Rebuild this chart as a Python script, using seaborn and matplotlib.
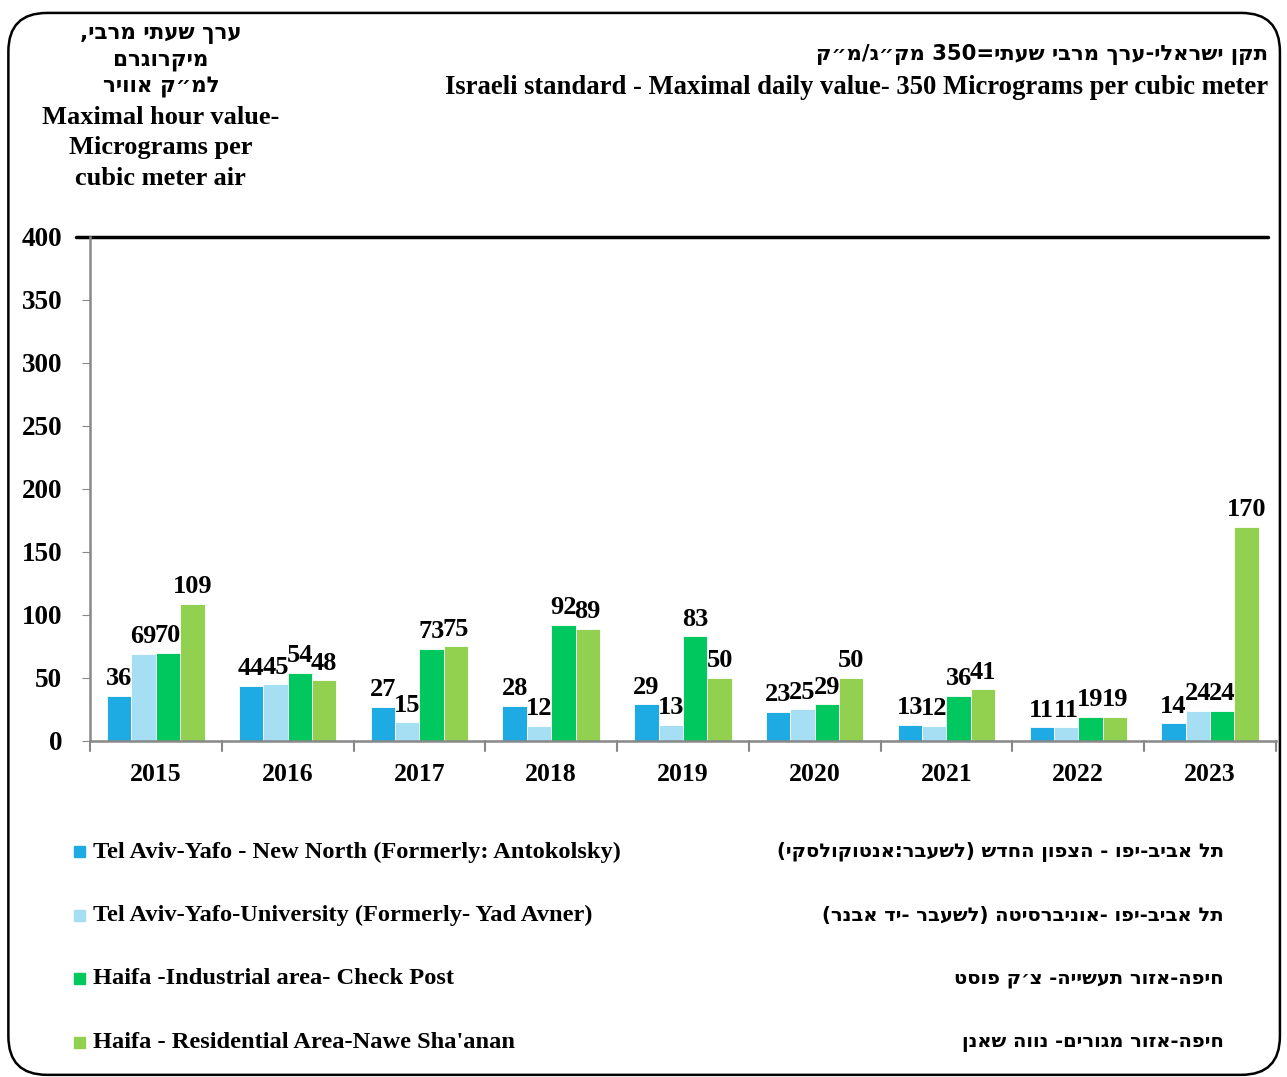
import re
import matplotlib
matplotlib.use("Agg")
import matplotlib.pyplot as plt
from matplotlib.patches import FancyBboxPatch, Rectangle
import seaborn as sns
import pandas as pd

years = ["2015", "2016", "2017", "2018", "2019", "2020", "2021", "2022", "2023"]
tel_aviv_new_north = [36, 44, 27, 28, 29, 23, 13, 11, 14]
tel_aviv_university = [69, 45, 15, 12, 13, 25, 12, 11, 24]
haifa_industrial = [70, 54, 73, 92, 83, 29, 36, 19, 24]
haifa_residential = [109, 48, 75, 89, 50, 50, 41, 19, 170]

stations_en = [
    "Tel Aviv-Yafo - New North (Formerly: Antokolsky)",
    "Tel Aviv-Yafo-University (Formerly- Yad Avner)",
    "Haifa -Industrial area- Check Post",
    "Haifa - Residential Area-Nawe Sha'anan",
]
stations_he = [
    "תל אביב-יפו - הצפון החדש (לשעבר:אנטוקולסקי)",
    "תל אביב-יפו -אוניברסיטה (לשעבר -יד אבנר)",
    "חיפה-אזור תעשייה- צ׳ק פוסט",
    "חיפה-אזור מגורים- נווה שאנן",
]
colors = ["#1EABE3", "#A6DEF4", "#00C85F", "#92D050"]

title_he = "תקן ישראלי-ערך מרבי שעתי=350 מק״ג/מ״ק"
title_en = "Israeli standard - Maximal daily value- 350 Micrograms per cubic meter"
ylabel_he = ["ערך שעתי מרבי,", "מיקרוגרם", "למ״ק אוויר"]
ylabel_en = ["Maximal hour value-", "Micrograms per", "cubic meter air"]


def visual(text):
    # matplotlib has no bidi support: reverse Hebrew, keep digits LTR
    rev = text[::-1]
    rev = re.sub(r"[0-9]+", lambda m: m.group(0)[::-1], rev)
    return rev.translate(str.maketrans("()", ")("))


serif = ["Liberation Serif", "DejaVu Serif"]
hebrew = ["DejaVu Sans"]

sns.set_style("white")
plt.rcParams["font.family"] = serif
plt.rcParams["text.color"] = "black"
plt.rcParams["xtick.labelcolor"] = "black"
plt.rcParams["ytick.labelcolor"] = "black"

df = pd.DataFrame({
    "year": years * 4,
    "station": [s for s in stations_en for _ in years],
    "value": tel_aviv_new_north + tel_aviv_university + haifa_industrial + haifa_residential,
})

fig = plt.figure(figsize=(12.87, 10.77), dpi=100)
ax = fig.add_axes([0.0699, 0.312, 0.9215, 0.468])

sns.barplot(data=df, x="year", y="value", hue="station", palette=colors,
            saturation=1, width=0.74, edgecolor="white", linewidth=0.6,
            legend=False, ax=ax)

for cont in ax.containers:
    ax.bar_label(cont, fontsize=19, fontweight="bold", padding=4, family=serif,
                 color="black")

ax.set_ylim(0, 400)
ax.set_yticks(range(0, 401, 50))
ax.set_xlim(-0.5, len(years) - 0.5)
ax.set_xlabel("")
ax.set_ylabel("")
for lab in ax.get_xticklabels():
    lab.set_fontweight("bold")
    lab.set_fontsize(18.5)
for lab in ax.get_yticklabels():
    lab.set_fontweight("bold")
    lab.set_fontsize(19.5)
ax.tick_params(axis="y", left=True, length=6, color="#888888", pad=14)
ax.tick_params(axis="x", bottom=False, pad=12)
for x in [i - 0.5 for i in range(len(years) + 1)]:
    ax.plot([x, x], [0, -8], color="#888888", lw=1.5, clip_on=False)
ax.set_ylim(0, 400)
for side in ["top", "right"]:
    ax.spines[side].set_visible(False)
for side in ["left", "bottom"]:
    ax.spines[side].set_color("#888888")
    ax.spines[side].set_linewidth(1.8)

ax.axhline(400, xmin=-0.012, xmax=0.993, color="black", lw=2.5, clip_on=False)

# titles
fig.text(0.125, 0.978, "\n".join(visual(s) for s in ylabel_he), ha="center", va="top",
         fontsize=15.5, fontweight="bold", family=hebrew, linespacing=1.35)
fig.text(0.125, 0.902, "\n".join(ylabel_en), ha="center", va="top",
         fontsize=19, fontweight="bold", linespacing=1.42)
fig.text(0.985, 0.949, visual(title_he), ha="right", va="center",
         fontsize=15.2, fontweight="bold", family=hebrew)
fig.text(0.985, 0.919, title_en, ha="right", va="center",
         fontsize=19.2, fontweight="bold")

# legend
rows = [0.209, 0.150, 0.091, 0.032]
for c, en, he, y in zip(colors, stations_en, stations_he, rows):
    fig.patches.append(Rectangle((0.0575, y - 0.005), 0.0085, 0.0102, color=c,
                                 transform=fig.transFigure))
    fig.text(0.072, y, en, ha="left", va="center", fontsize=17.6, fontweight="bold")
    fig.text(0.951, y, visual(he), ha="right", va="center", fontsize=14,
             fontweight="bold", family=hebrew)

# rounded frame
fig.patches.append(FancyBboxPatch((0.0065, 0.002), 0.988, 0.986,
                                  boxstyle="round,pad=0,rounding_size=0.03",
                                  transform=fig.transFigure, fill=False,
                                  edgecolor="black", lw=1.8, mutation_aspect=1287 / 1077))

fig.savefig("out.png", dpi=100)
